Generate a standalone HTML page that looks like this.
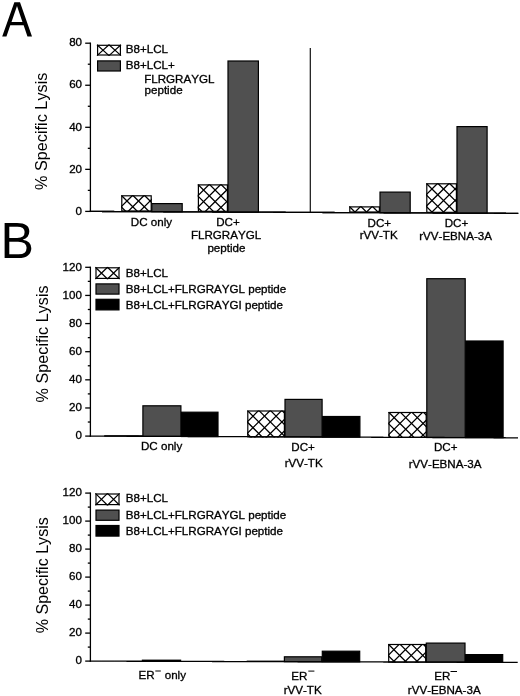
<!DOCTYPE html>
<html><head><meta charset="utf-8"><style>
html,body{margin:0;padding:0;background:#fff;}
svg{display:block;filter:blur(0.35px);}
text{font-family:"Liberation Sans",sans-serif;fill:#000;font-kerning:none;}
text.s{stroke:#000;stroke-width:0.32px;}
</style></head><body>
<svg width="520" height="696" viewBox="0 0 520 696">
<rect width="520" height="696" fill="#fff"/>
<path fill-rule="evenodd" fill="#000" d="M2.2,36.5L14.35,2.2L20.0,2.2L32.0,36.5L27.45,36.5L23.65,25.2L10.3,25.2L6.45,36.5Z M11.5,22.1L22.45,22.1L17.0,6.0Z"/>
<line x1="90.40" y1="42.55" x2="90.40" y2="212.05" stroke="#000" stroke-width="1.3"/>
<line x1="85.20" y1="211.40" x2="90.40" y2="211.40" stroke="#000" stroke-width="1.3"/>
<text class="s" x="75.60" y="214.60" font-size="11.6">0</text>
<line x1="85.20" y1="169.35" x2="90.40" y2="169.35" stroke="#000" stroke-width="1.3"/>
<text class="s" x="69.15" y="172.55" font-size="11.6">20</text>
<line x1="85.20" y1="127.30" x2="90.40" y2="127.30" stroke="#000" stroke-width="1.3"/>
<text class="s" x="69.15" y="130.50" font-size="11.6">40</text>
<line x1="85.20" y1="85.25" x2="90.40" y2="85.25" stroke="#000" stroke-width="1.3"/>
<text class="s" x="69.15" y="88.45" font-size="11.6">60</text>
<line x1="85.20" y1="43.20" x2="90.40" y2="43.20" stroke="#000" stroke-width="1.3"/>
<text class="s" x="69.15" y="46.40" font-size="11.6">80</text>
<line x1="87.80" y1="190.38" x2="90.40" y2="190.38" stroke="#000" stroke-width="1.3"/>
<line x1="87.80" y1="148.32" x2="90.40" y2="148.32" stroke="#000" stroke-width="1.3"/>
<line x1="87.80" y1="106.28" x2="90.40" y2="106.28" stroke="#000" stroke-width="1.3"/>
<line x1="87.80" y1="64.22" x2="90.40" y2="64.22" stroke="#000" stroke-width="1.3"/>
<path d="M89.75,210.778H101.99V212.078H89.75ZM101.99,210.834H114.24V212.134H101.99ZM114.24,210.889H126.48V212.189H114.24ZM126.48,210.945H138.73V212.245H126.48ZM138.73,211.001H150.97V212.301H138.73ZM150.97,211.056H163.22V212.356H150.97ZM163.22,211.112H175.46V212.412H163.22ZM175.46,211.168H187.70V212.468H175.46ZM187.70,211.224H199.95V212.524H187.70ZM199.95,211.279H212.19V212.579H199.95ZM212.19,211.335H224.44V212.635H212.19ZM224.44,211.391H236.68V212.691H224.44ZM236.68,211.446H248.93V212.746H236.68ZM248.93,211.502H261.17V212.802H248.93ZM261.17,211.558H273.41V212.858H261.17ZM273.41,211.614H285.66V212.914H273.41ZM285.66,211.669H297.90V212.969H285.66ZM297.90,211.725H310.15V213.025H297.90ZM310.15,211.781H322.39V213.081H310.15ZM322.39,211.836H334.64V213.136H322.39ZM334.64,211.892H346.88V213.192H334.64ZM346.88,211.948H359.12V213.248H346.88ZM359.12,212.003H371.37V213.303H359.12ZM371.37,212.059H383.61V213.359H371.37ZM383.61,212.115H395.86V213.415H383.61ZM395.86,212.171H408.10V213.471H395.86ZM408.10,212.226H420.35V213.526H408.10ZM420.35,212.282H432.59V213.582H420.35ZM432.59,212.338H444.83V213.638H432.59ZM444.83,212.393H457.08V213.693H444.83ZM457.08,212.449H469.32V213.749H457.08ZM469.32,212.505H481.57V213.805H469.32ZM481.57,212.561H493.81V213.861H481.57ZM493.81,212.616H506.06V213.916H493.81ZM506.06,212.672H518.30V213.972H506.06Z" fill="#000"/>
<line x1="310.30" y1="48.00" x2="310.30" y2="212.41" stroke="#111" stroke-width="1.2"/>
<text transform="translate(47.00,189.98) rotate(-90) scale(1.0028,1)" font-size="16.2">% Specific Lysis</text>
<rect x="97.00" y="44.70" width="24.00" height="10.90" fill="#fff"/>
<path d="M97.00,44.70L109.00,55.60M109.00,44.70L97.00,55.60M109.00,44.70L121.00,55.60M121.00,44.70L109.00,55.60" stroke="#000" stroke-width="1.2" fill="none"/>
<rect x="97.60" y="45.30" width="22.80" height="9.70" fill="none" stroke="#000" stroke-width="1.2"/>
<rect x="97.60" y="60.90" width="22.80" height="10.10" fill="#505050" stroke="#000" stroke-width="1.2"/>
<text class="s" x="125.75" y="53.30" font-size="11.6">B8+LCL</text>
<text class="s" x="125.75" y="68.90" font-size="11.6">B8+LCL+</text>
<text class="s" x="144.15" y="82.60" font-size="11.6">FLRGRAYGL</text>
<text class="s" x="144.55" y="93.60" font-size="11.6">peptide</text>
<clipPath id="c1"><rect x="121.20" y="195.20" width="30.60" height="16.36"/></clipPath>
<rect x="121.20" y="195.20" width="30.60" height="16.36" fill="#fff"/>
<g clip-path="url(#c1)"><path d="M86.55,195.20L104.91,213.56M98.10,195.20L116.46,213.56M109.65,195.20L128.01,213.56M121.20,195.20L139.56,213.56M132.75,195.20L151.11,213.56M144.30,195.20L162.66,213.56M155.85,195.20L174.21,213.56M167.40,195.20L185.76,213.56M178.95,195.20L197.31,213.56" stroke="#000" stroke-width="1.3" fill="none"/><path d="M86.55,195.20L68.19,213.56M98.10,195.20L79.74,213.56M109.65,195.20L91.29,213.56M121.20,195.20L102.84,213.56M132.75,195.20L114.39,213.56M144.30,195.20L125.94,213.56M155.85,195.20L137.49,213.56M167.40,195.20L149.04,213.56M178.95,195.20L160.59,213.56" stroke="#000" stroke-width="1.3" fill="none"/></g>
<rect x="121.80" y="195.80" width="29.40" height="15.16" fill="none" stroke="#000" stroke-width="1.2"/>
<rect x="151.80" y="203.60" width="30.40" height="8.14" fill="#505050" stroke="#000" stroke-width="1.2"/>
<clipPath id="c2"><rect x="197.80" y="184.30" width="30.20" height="27.61"/></clipPath>
<rect x="197.80" y="184.30" width="30.20" height="27.61" fill="#fff"/>
<g clip-path="url(#c2)"><path d="M151.60,184.30L181.21,213.91M163.15,184.30L192.76,213.91M174.70,184.30L204.31,213.91M186.25,184.30L215.86,213.91M197.80,184.30L227.41,213.91M209.35,184.30L238.96,213.91M220.90,184.30L250.51,213.91M232.45,184.30L262.06,213.91M244.00,184.30L273.61,213.91M255.55,184.30L285.16,213.91M267.10,184.30L296.71,213.91" stroke="#000" stroke-width="1.3" fill="none"/><path d="M151.60,184.30L121.99,213.91M163.15,184.30L133.54,213.91M174.70,184.30L145.09,213.91M186.25,184.30L156.64,213.91M197.80,184.30L168.19,213.91M209.35,184.30L179.74,213.91M220.90,184.30L191.29,213.91M232.45,184.30L202.84,213.91M244.00,184.30L214.39,213.91M255.55,184.30L225.94,213.91M267.10,184.30L237.49,213.91" stroke="#000" stroke-width="1.3" fill="none"/></g>
<rect x="198.40" y="184.90" width="29.00" height="26.41" fill="none" stroke="#000" stroke-width="1.2"/>
<rect x="228.00" y="61.00" width="30.40" height="151.08" fill="#505050" stroke="#000" stroke-width="1.2"/>
<clipPath id="c3"><rect x="349.20" y="206.30" width="30.80" height="6.29"/></clipPath>
<rect x="349.20" y="206.30" width="30.80" height="6.29" fill="#fff"/>
<g clip-path="url(#c3)"><path d="M326.10,206.30L334.39,214.59M337.65,206.30L345.94,214.59M349.20,206.30L357.49,214.59M360.75,206.30L369.04,214.59M372.30,206.30L380.59,214.59M383.85,206.30L392.14,214.59M395.40,206.30L403.69,214.59" stroke="#000" stroke-width="1.3" fill="none"/><path d="M326.10,206.30L317.81,214.59M337.65,206.30L329.36,214.59M349.20,206.30L340.91,214.59M360.75,206.30L352.46,214.59M372.30,206.30L364.01,214.59M383.85,206.30L375.56,214.59M395.40,206.30L387.11,214.59" stroke="#000" stroke-width="1.3" fill="none"/></g>
<rect x="349.80" y="206.90" width="29.60" height="5.09" fill="none" stroke="#000" stroke-width="1.2"/>
<rect x="380.00" y="192.10" width="30.20" height="20.67" fill="#505050" stroke="#000" stroke-width="1.2"/>
<clipPath id="c4"><rect x="426.20" y="183.20" width="30.80" height="29.74"/></clipPath>
<rect x="426.20" y="183.20" width="30.80" height="29.74" fill="#fff"/>
<g clip-path="url(#c4)"><path d="M380.00,183.20L411.74,214.94M391.55,183.20L423.29,214.94M403.10,183.20L434.84,214.94M414.65,183.20L446.39,214.94M426.20,183.20L457.94,214.94M437.75,183.20L469.49,214.94M449.30,183.20L481.04,214.94M460.85,183.20L492.59,214.94M472.40,183.20L504.14,214.94M483.95,183.20L515.69,214.94M495.50,183.20L527.24,214.94" stroke="#000" stroke-width="1.3" fill="none"/><path d="M380.00,183.20L348.26,214.94M391.55,183.20L359.81,214.94M403.10,183.20L371.36,214.94M414.65,183.20L382.91,214.94M426.20,183.20L394.46,214.94M437.75,183.20L406.01,214.94M449.30,183.20L417.56,214.94M460.85,183.20L429.11,214.94M472.40,183.20L440.66,214.94M483.95,183.20L452.21,214.94M495.50,183.20L463.76,214.94" stroke="#000" stroke-width="1.3" fill="none"/></g>
<rect x="426.80" y="183.80" width="29.60" height="28.54" fill="none" stroke="#000" stroke-width="1.2"/>
<rect x="457.00" y="126.60" width="30.10" height="86.51" fill="#505050" stroke="#000" stroke-width="1.2"/>
<path d="M89.75,210.778H101.99V212.078H89.75ZM101.99,210.834H114.24V212.134H101.99ZM114.24,210.889H126.48V212.189H114.24ZM126.48,210.945H138.73V212.245H126.48ZM138.73,211.001H150.97V212.301H138.73ZM150.97,211.056H163.22V212.356H150.97ZM163.22,211.112H175.46V212.412H163.22ZM175.46,211.168H187.70V212.468H175.46ZM187.70,211.224H199.95V212.524H187.70ZM199.95,211.279H212.19V212.579H199.95ZM212.19,211.335H224.44V212.635H212.19ZM224.44,211.391H236.68V212.691H224.44ZM236.68,211.446H248.93V212.746H236.68ZM248.93,211.502H261.17V212.802H248.93ZM261.17,211.558H273.41V212.858H261.17ZM273.41,211.614H285.66V212.914H273.41ZM285.66,211.669H297.90V212.969H285.66ZM297.90,211.725H310.15V213.025H297.90ZM310.15,211.781H322.39V213.081H310.15ZM322.39,211.836H334.64V213.136H322.39ZM334.64,211.892H346.88V213.192H334.64ZM346.88,211.948H359.12V213.248H346.88ZM359.12,212.003H371.37V213.303H359.12ZM371.37,212.059H383.61V213.359H371.37ZM383.61,212.115H395.86V213.415H383.61ZM395.86,212.171H408.10V213.471H395.86ZM408.10,212.226H420.35V213.526H408.10ZM420.35,212.282H432.59V213.582H420.35ZM432.59,212.338H444.83V213.638H432.59ZM444.83,212.393H457.08V213.693H444.83ZM457.08,212.449H469.32V213.749H457.08ZM469.32,212.505H481.57V213.805H469.32ZM481.57,212.561H493.81V213.861H481.57ZM493.81,212.616H506.06V213.916H493.81ZM506.06,212.672H518.30V213.972H506.06Z" fill="#000"/>
<text class="s" x="130.81" y="225.60" font-size="11.6">DC only</text>
<text class="s" x="216.15" y="226.40" font-size="11.6">DC+</text>
<text class="s" x="190.89" y="239.00" font-size="11.6">FLRGRAYGL</text>
<text class="s" x="207.41" y="252.40" font-size="11.6">peptide</text>
<text class="s" x="367.55" y="226.50" font-size="11.6">DC+</text>
<text class="s" x="359.67" y="239.40" font-size="11.6">rVV-TK</text>
<text class="s" x="444.65" y="227.00" font-size="11.6">DC+</text>
<text class="s" x="419.21" y="240.10" font-size="11.6">rVV-EBNA-3A</text>
<text transform="translate(0.38,258.00) scale(1.0033,1)" font-size="50">B</text>
<line x1="90.40" y1="266.65" x2="90.40" y2="436.75" stroke="#000" stroke-width="1.3"/>
<line x1="85.20" y1="436.10" x2="90.40" y2="436.10" stroke="#000" stroke-width="1.3"/>
<text class="s" x="75.50" y="439.30" font-size="11.6">0</text>
<line x1="85.20" y1="407.97" x2="90.40" y2="407.97" stroke="#000" stroke-width="1.3"/>
<text class="s" x="69.05" y="411.17" font-size="11.6">20</text>
<line x1="85.20" y1="379.83" x2="90.40" y2="379.83" stroke="#000" stroke-width="1.3"/>
<text class="s" x="69.05" y="383.03" font-size="11.6">40</text>
<line x1="85.20" y1="351.70" x2="90.40" y2="351.70" stroke="#000" stroke-width="1.3"/>
<text class="s" x="69.05" y="354.90" font-size="11.6">60</text>
<line x1="85.20" y1="323.57" x2="90.40" y2="323.57" stroke="#000" stroke-width="1.3"/>
<text class="s" x="69.05" y="326.77" font-size="11.6">80</text>
<line x1="85.20" y1="295.43" x2="90.40" y2="295.43" stroke="#000" stroke-width="1.3"/>
<text class="s" x="62.60" y="298.63" font-size="11.6">100</text>
<line x1="85.20" y1="267.30" x2="90.40" y2="267.30" stroke="#000" stroke-width="1.3"/>
<text class="s" x="62.60" y="270.50" font-size="11.6">120</text>
<line x1="87.80" y1="422.03" x2="90.40" y2="422.03" stroke="#000" stroke-width="1.3"/>
<line x1="87.80" y1="393.90" x2="90.40" y2="393.90" stroke="#000" stroke-width="1.3"/>
<line x1="87.80" y1="365.77" x2="90.40" y2="365.77" stroke="#000" stroke-width="1.3"/>
<line x1="87.80" y1="337.63" x2="90.40" y2="337.63" stroke="#000" stroke-width="1.3"/>
<line x1="87.80" y1="309.50" x2="90.40" y2="309.50" stroke="#000" stroke-width="1.3"/>
<line x1="87.80" y1="281.37" x2="90.40" y2="281.37" stroke="#000" stroke-width="1.3"/>
<rect x="95.40" y="267.20" width="24.20" height="11.80" fill="#fff"/>
<path d="M95.40,267.20L107.50,279.00M107.50,267.20L95.40,279.00M107.50,267.20L119.60,279.00M119.60,267.20L107.50,279.00" stroke="#000" stroke-width="1.2" fill="none"/>
<rect x="96.00" y="267.80" width="23.00" height="10.60" fill="none" stroke="#000" stroke-width="1.2"/>
<rect x="96.00" y="283.90" width="23.00" height="10.20" fill="#505050" stroke="#000" stroke-width="1.2"/>
<rect x="96.00" y="299.30" width="23.00" height="10.60" fill="#000" stroke="#000" stroke-width="1.2"/>
<text class="s" x="125.75" y="276.95" font-size="11.6">B8+LCL</text>
<text class="s" x="125.75" y="292.65" font-size="11.6">B8+LCL+FLRGRAYGL peptide</text>
<text class="s" x="125.75" y="308.80" font-size="11.6">B8+LCL+FLRGRAYGI peptide</text>
<rect x="104.20" y="435.20" width="38.70" height="1.50" fill="#000"/>
<rect x="142.90" y="405.80" width="38.00" height="30.59" fill="#505050" stroke="#000" stroke-width="1.2"/>
<rect x="181.50" y="412.20" width="36.50" height="24.33" fill="#000" stroke="#000" stroke-width="1.2"/>
<clipPath id="c5"><rect x="247.20" y="410.40" width="37.80" height="27.00"/></clipPath>
<rect x="247.20" y="410.40" width="37.80" height="27.00" fill="#fff"/>
<g clip-path="url(#c5)"><path d="M201.00,410.40L230.00,439.40M212.55,410.40L241.55,439.40M224.10,410.40L253.10,439.40M235.65,410.40L264.65,439.40M247.20,410.40L276.20,439.40M258.75,410.40L287.75,439.40M270.30,410.40L299.30,439.40M281.85,410.40L310.85,439.40M293.40,410.40L322.40,439.40M304.95,410.40L333.95,439.40M316.50,410.40L345.50,439.40" stroke="#000" stroke-width="1.3" fill="none"/><path d="M201.00,410.40L172.00,439.40M212.55,410.40L183.55,439.40M224.10,410.40L195.10,439.40M235.65,410.40L206.65,439.40M247.20,410.40L218.20,439.40M258.75,410.40L229.75,439.40M270.30,410.40L241.30,439.40M281.85,410.40L252.85,439.40M293.40,410.40L264.40,439.40M304.95,410.40L275.95,439.40M316.50,410.40L287.50,439.40" stroke="#000" stroke-width="1.3" fill="none"/></g>
<rect x="247.80" y="411.00" width="36.60" height="25.80" fill="none" stroke="#000" stroke-width="1.2"/>
<rect x="285.00" y="399.40" width="37.10" height="37.55" fill="#505050" stroke="#000" stroke-width="1.2"/>
<rect x="322.70" y="416.50" width="37.20" height="20.60" fill="#000" stroke="#000" stroke-width="1.2"/>
<clipPath id="c6"><rect x="388.40" y="411.90" width="38.40" height="26.07"/></clipPath>
<rect x="388.40" y="411.90" width="38.40" height="26.07" fill="#fff"/>
<g clip-path="url(#c6)"><path d="M342.20,411.90L370.27,439.97M353.75,411.90L381.82,439.97M365.30,411.90L393.37,439.97M376.85,411.90L404.92,439.97M388.40,411.90L416.47,439.97M399.95,411.90L428.02,439.97M411.50,411.90L439.57,439.97M423.05,411.90L451.12,439.97M434.60,411.90L462.67,439.97M446.15,411.90L474.22,439.97M457.70,411.90L485.77,439.97" stroke="#000" stroke-width="1.3" fill="none"/><path d="M342.20,411.90L314.13,439.97M353.75,411.90L325.68,439.97M365.30,411.90L337.23,439.97M376.85,411.90L348.78,439.97M388.40,411.90L360.33,439.97M399.95,411.90L371.88,439.97M411.50,411.90L383.43,439.97M423.05,411.90L394.98,439.97M434.60,411.90L406.53,439.97M446.15,411.90L418.08,439.97M457.70,411.90L429.63,439.97" stroke="#000" stroke-width="1.3" fill="none"/></g>
<rect x="389.00" y="412.50" width="37.20" height="24.87" fill="none" stroke="#000" stroke-width="1.2"/>
<rect x="426.80" y="278.70" width="38.40" height="158.82" fill="#505050" stroke="#000" stroke-width="1.2"/>
<rect x="465.80" y="341.00" width="37.30" height="96.67" fill="#000" stroke="#000" stroke-width="1.2"/>
<path d="M89.75,435.475H101.99V436.775H89.75ZM101.99,435.524H114.22V436.824H101.99ZM114.22,435.574H126.46V436.874H114.22ZM126.46,435.623H138.69V436.923H126.46ZM138.69,435.673H150.93V436.973H138.69ZM150.93,435.722H163.16V437.022H150.93ZM163.16,435.772H175.40V437.072H163.16ZM175.40,435.821H187.64V437.121H175.40ZM187.64,435.871H199.87V437.171H187.64ZM199.87,435.920H212.11V437.220H199.87ZM212.11,435.970H224.34V437.270H212.11ZM224.34,436.019H236.58V437.319H224.34ZM236.58,436.069H248.81V437.369H236.58ZM248.81,436.118H261.05V437.418H248.81ZM261.05,436.168H273.29V437.468H261.05ZM273.29,436.217H285.52V437.517H273.29ZM285.52,436.267H297.76V437.567H285.52ZM297.76,436.316H309.99V437.616H297.76ZM309.99,436.365H322.23V437.665H309.99ZM322.23,436.415H334.46V437.715H322.23ZM334.46,436.464H346.70V437.764H334.46ZM346.70,436.514H358.94V437.814H346.70ZM358.94,436.563H371.17V437.863H358.94ZM371.17,436.613H383.41V437.913H371.17ZM383.41,436.662H395.64V437.962H383.41ZM395.64,436.712H407.88V438.012H395.64ZM407.88,436.761H420.11V438.061H407.88ZM420.11,436.811H432.35V438.111H420.11ZM432.35,436.860H444.59V438.160H432.35ZM444.59,436.910H456.82V438.210H444.59ZM456.82,436.959H469.06V438.259H456.82ZM469.06,437.009H481.29V438.309H469.06ZM481.29,437.058H493.53V438.358H481.29ZM493.53,437.108H505.76V438.408H493.53ZM505.76,437.157H518.00V438.457H505.76Z" fill="#000"/>
<text class="s" x="141.01" y="449.80" font-size="11.6">DC only</text>
<text class="s" x="291.30" y="450.70" font-size="11.6">DC+</text>
<text class="s" x="284.67" y="467.00" font-size="11.6">rVV-TK</text>
<text class="s" x="433.95" y="451.30" font-size="11.6">DC+</text>
<text class="s" x="408.71" y="468.00" font-size="11.6">rVV-EBNA-3A</text>
<text transform="translate(48.00,402.38) rotate(-90) scale(1.0002,1)" font-size="16.2">% Specific Lysis</text>
<line x1="90.40" y1="492.45" x2="90.40" y2="661.75" stroke="#000" stroke-width="1.3"/>
<line x1="85.20" y1="661.10" x2="90.40" y2="661.10" stroke="#000" stroke-width="1.3"/>
<text class="s" x="75.50" y="664.30" font-size="11.6">0</text>
<line x1="85.20" y1="633.10" x2="90.40" y2="633.10" stroke="#000" stroke-width="1.3"/>
<text class="s" x="69.05" y="636.30" font-size="11.6">20</text>
<line x1="85.20" y1="605.10" x2="90.40" y2="605.10" stroke="#000" stroke-width="1.3"/>
<text class="s" x="69.05" y="608.30" font-size="11.6">40</text>
<line x1="85.20" y1="577.10" x2="90.40" y2="577.10" stroke="#000" stroke-width="1.3"/>
<text class="s" x="69.05" y="580.30" font-size="11.6">60</text>
<line x1="85.20" y1="549.10" x2="90.40" y2="549.10" stroke="#000" stroke-width="1.3"/>
<text class="s" x="69.05" y="552.30" font-size="11.6">80</text>
<line x1="85.20" y1="521.10" x2="90.40" y2="521.10" stroke="#000" stroke-width="1.3"/>
<text class="s" x="62.60" y="524.30" font-size="11.6">100</text>
<line x1="85.20" y1="493.10" x2="90.40" y2="493.10" stroke="#000" stroke-width="1.3"/>
<text class="s" x="62.60" y="496.30" font-size="11.6">120</text>
<line x1="87.80" y1="647.10" x2="90.40" y2="647.10" stroke="#000" stroke-width="1.3"/>
<line x1="87.80" y1="619.10" x2="90.40" y2="619.10" stroke="#000" stroke-width="1.3"/>
<line x1="87.80" y1="591.10" x2="90.40" y2="591.10" stroke="#000" stroke-width="1.3"/>
<line x1="87.80" y1="563.10" x2="90.40" y2="563.10" stroke="#000" stroke-width="1.3"/>
<line x1="87.80" y1="535.10" x2="90.40" y2="535.10" stroke="#000" stroke-width="1.3"/>
<line x1="87.80" y1="507.10" x2="90.40" y2="507.10" stroke="#000" stroke-width="1.3"/>
<rect x="95.40" y="493.40" width="24.20" height="11.80" fill="#fff"/>
<path d="M95.40,493.40L107.50,505.20M107.50,493.40L95.40,505.20M107.50,493.40L119.60,505.20M119.60,493.40L107.50,505.20" stroke="#000" stroke-width="1.2" fill="none"/>
<rect x="96.00" y="494.00" width="23.00" height="10.60" fill="none" stroke="#000" stroke-width="1.2"/>
<rect x="96.00" y="510.10" width="23.00" height="10.20" fill="#505050" stroke="#000" stroke-width="1.2"/>
<rect x="96.00" y="525.50" width="23.00" height="10.60" fill="#000" stroke="#000" stroke-width="1.2"/>
<text class="s" x="125.75" y="502.35" font-size="11.6">B8+LCL</text>
<text class="s" x="125.75" y="519.35" font-size="11.6">B8+LCL+FLRGRAYGL peptide</text>
<text class="s" x="125.75" y="535.15" font-size="11.6">B8+LCL+FLRGRAYGI peptide</text>
<rect x="142.40" y="660.20" width="38.20" height="1.09" fill="#505050" stroke="#000" stroke-width="1.2"/>
<rect x="246.70" y="660.60" width="37.70" height="1.10" fill="#000"/>
<rect x="284.40" y="656.80" width="37.30" height="4.91" fill="#505050" stroke="#000" stroke-width="1.2"/>
<rect x="322.30" y="651.20" width="37.40" height="10.63" fill="#000" stroke="#000" stroke-width="1.2"/>
<clipPath id="c7"><rect x="388.10" y="643.90" width="38.20" height="18.72"/></clipPath>
<rect x="388.10" y="643.90" width="38.20" height="18.72" fill="#fff"/>
<g clip-path="url(#c7)"><path d="M353.45,643.90L374.17,664.62M365.00,643.90L385.72,664.62M376.55,643.90L397.27,664.62M388.10,643.90L408.82,664.62M399.65,643.90L420.37,664.62M411.20,643.90L431.92,664.62M422.75,643.90L443.47,664.62M434.30,643.90L455.02,664.62M445.85,643.90L466.57,664.62" stroke="#000" stroke-width="1.3" fill="none"/><path d="M353.45,643.90L332.73,664.62M365.00,643.90L344.28,664.62M376.55,643.90L355.83,664.62M388.10,643.90L367.38,664.62M399.65,643.90L378.93,664.62M411.20,643.90L390.48,664.62M422.75,643.90L402.03,664.62M434.30,643.90L413.58,664.62M445.85,643.90L425.13,664.62" stroke="#000" stroke-width="1.3" fill="none"/></g>
<rect x="388.70" y="644.50" width="37.00" height="17.52" fill="none" stroke="#000" stroke-width="1.2"/>
<rect x="426.30" y="643.10" width="38.70" height="19.04" fill="#505050" stroke="#000" stroke-width="1.2"/>
<rect x="465.60" y="654.60" width="37.10" height="7.65" fill="#000" stroke="#000" stroke-width="1.2"/>
<path d="M89.75,660.469H101.98V661.769H89.75ZM101.98,660.506H114.20V661.806H101.98ZM114.20,660.543H126.43V661.843H114.20ZM126.43,660.580H138.66V661.880H126.43ZM138.66,660.617H150.89V661.917H138.66ZM150.89,660.654H163.11V661.954H150.89ZM163.11,660.691H175.34V661.991H163.11ZM175.34,660.728H187.57V662.028H175.34ZM187.57,660.765H199.79V662.065H187.57ZM199.79,660.802H212.02V662.102H199.79ZM212.02,660.839H224.25V662.139H212.02ZM224.25,660.877H236.48V662.177H224.25ZM236.48,660.914H248.70V662.214H236.48ZM248.70,660.951H260.93V662.251H248.70ZM260.93,660.988H273.16V662.288H260.93ZM273.16,661.025H285.38V662.325H273.16ZM285.38,661.062H297.61V662.362H285.38ZM297.61,661.099H309.84V662.399H297.61ZM309.84,661.136H322.07V662.436H309.84ZM322.07,661.173H334.29V662.473H322.07ZM334.29,661.210H346.52V662.510H334.29ZM346.52,661.247H358.75V662.547H346.52ZM358.75,661.284H370.97V662.584H358.75ZM370.97,661.322H383.20V662.622H370.97ZM383.20,661.359H395.43V662.659H383.20ZM395.43,661.396H407.66V662.696H395.43ZM407.66,661.433H419.88V662.733H407.66ZM419.88,661.470H432.11V662.770H419.88ZM432.11,661.507H444.34V662.807H432.11ZM444.34,661.544H456.56V662.844H444.34ZM456.56,661.581H468.79V662.881H456.56ZM468.79,661.618H481.02V662.918H468.79ZM481.02,661.655H493.25V662.955H481.02ZM493.25,661.692H505.47V662.992H493.25ZM505.47,661.730H517.70V663.030H505.47Z" fill="#000"/>
<text transform="translate(47.70,633.27) rotate(-90) scale(0.9924,1)" font-size="16.2">% Specific Lysis</text>
<text class="s" x="138.45" y="679.10" font-size="11.6">ER</text>
<line x1="155.30" y1="671.00" x2="160.80" y2="671.00" stroke="#000" stroke-width="1.0"/>
<text class="s" x="164.71" y="679.10" font-size="11.6">only</text>
<text class="s" x="291.35" y="680.00" font-size="11.6">ER</text>
<line x1="308.30" y1="671.10" x2="314.40" y2="671.10" stroke="#000" stroke-width="1.0"/>
<text class="s" x="283.63" y="694.20" font-size="11.6">rVV-TK</text>
<text class="s" x="434.25" y="679.80" font-size="11.6">ER</text>
<line x1="450.50" y1="671.50" x2="457.00" y2="671.50" stroke="#000" stroke-width="1.0"/>
<text class="s" x="407.83" y="694.30" font-size="11.6">rVV-EBNA-3A</text>
</svg></body></html>
